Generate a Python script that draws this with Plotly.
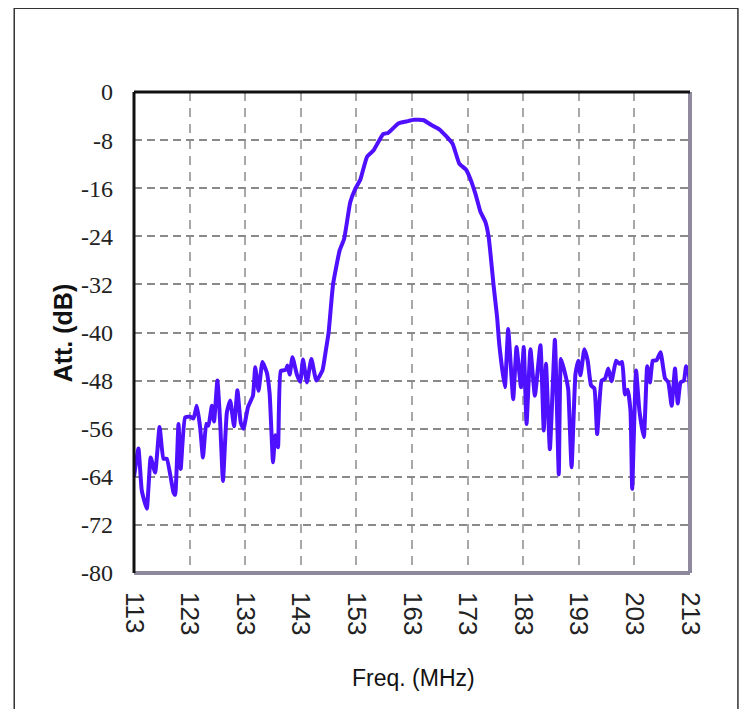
import plotly.graph_objects as go

freq = [113.0, 113.8, 114.4, 115.3, 116.0, 116.8, 117.6, 118.3, 118.9, 120.1,
        120.4, 121.0, 121.4, 122.2, 123.1, 123.7, 124.3, 124.9, 125.4, 126.0,
        126.4, 127.0, 127.4, 128.0, 128.5, 129.0, 129.7, 130.3, 131.0, 131.6,
        132.2, 132.7, 133.5, 134.4, 134.8, 135.4, 136.1, 136.9, 137.4, 138.0,
        138.4, 138.9, 139.4, 140.3, 140.6, 141.0, 141.5, 142.3, 142.9, 143.4,
        144.1, 144.9, 145.8, 146.9, 147.5, 148.0, 148.8, 150.0, 150.8, 151.9,
        152.8, 153.7, 154.9, 156.1, 157.8, 158.7, 160.6, 162.0, 163.3, 165.1,
        166.5, 167.9, 169.1, 170.3, 171.5, 172.7, 173.3, 174.4, 175.3, 176.2,
        176.8, 177.7, 178.3, 178.7, 179.7, 180.3, 181.2, 181.8, 182.6, 183.1,
        183.6, 184.3, 185.1, 186.1, 186.7, 187.1, 187.8, 188.7, 189.4, 189.8,
        190.7, 191.1, 191.7, 192.4, 192.9, 193.3, 194.0, 194.6, 195.2, 195.8,
        196.3, 197.1, 197.7, 198.3, 198.9, 199.7, 200.3, 200.8, 201.3, 201.8,
        202.3, 202.6, 203.3, 203.9, 204.7, 205.3, 205.8, 206.3, 207.0, 207.7,
        208.5, 209.1, 209.7, 210.3, 210.8, 211.3, 211.9, 212.3, 212.8, 213.0]

att = [-64.0, -59.3, -66.3, -69.3, -60.8, -63.3, -55.7, -61.0, -61.0, -66.6,
       -67.0, -55.2, -62.7, -54.1, -54.0, -54.3, -52.2, -55.8, -60.8, -55.2,
       -55.5, -52.2, -54.8, -48.0, -55.0, -64.7, -53.3, -51.3, -55.6, -49.6,
       -55.0, -56.0, -52.4, -50.5, -45.8, -49.7, -44.9, -46.7, -50.2, -61.6,
       -57.1, -59.1, -46.4, -46.2, -45.5, -47.0, -44.1, -47.0, -48.2, -44.5,
       -48.3, -44.4, -48.0, -46.3, -43.0, -40.0, -32.0, -26.3, -24.4, -18.3,
       -16.1, -14.6, -10.8, -9.7, -7.0, -6.8, -5.2, -4.9, -4.6, -4.7,
       -5.5, -6.2, -7.3, -8.6, -11.9, -12.9, -14.0, -16.9, -19.9, -21.6,
       -24.2, -32.4, -37.4, -42.0, -49.1, -39.4, -51.1, -42.4, -49.1, -42.4,
       -55.2, -42.8, -50.5, -42.1, -56.3, -45.2, -59.4, -41.2, -63.6, -44.4,
       -47.5, -49.5, -62.4, -46.9, -44.7, -47.1, -42.8, -44.7, -48.8, -49.3,
       -56.9, -48.0, -47.7, -46.0, -48.1, -44.7, -45.2, -44.9, -50.3, -49.5,
       -53.1, -66.0, -46.3, -53.0, -57.4, -45.6, -48.3, -44.7, -44.6, -43.3,
       -47.6, -48.3, -52.2, -46.0, -51.8, -48.3, -48.0, -45.6, -47.0, -51.3]

x_ticks = [113, 123, 133, 143, 153, 163, 173, 183, 193, 203, 213]
y_ticks = [0, -8, -16, -24, -32, -40, -48, -56, -64, -72, -80]

SERIF = "Liberation Serif"
SANS = "Liberation Sans"

fig = go.Figure()
fig.add_trace(go.Scatter(x=freq, y=att, mode="lines",
                         line=dict(color="#4f10ff", width=4, shape="spline", smoothing=0.4),
                         showlegend=False))

fig.update_layout(
    width=752, height=709,
    margin=dict(l=126, r=70, t=84, b=144),
    paper_bgcolor="white", plot_bgcolor="white",
    font=dict(family=SERIF, size=24, color="#222"),
    xaxis=dict(range=[113, 213], tickvals=x_ticks,
               ticktext=[str(v) for v in x_ticks], tickangle=90,
               tickfont=dict(family=SANS, size=26, color="#222"),
               showgrid=True, gridcolor="#a8a8a8", gridwidth=1.5, griddash="9px,7px",
               zeroline=False, showline=False, ticks="", ticklabelstandoff=18),
    yaxis=dict(range=[-80, 0], tickvals=y_ticks,
               ticktext=[str(v) for v in y_ticks],
               tickfont=dict(family=SERIF, size=24, color="#222"),
               showgrid=True, gridcolor="#8a8a8a", gridwidth=1.5, griddash="8px,5px",
               zeroline=False, showline=False, ticks="", ticklabelstandoff=20),
)

shapes = [
    dict(type="rect", xref="paper", yref="paper", x0=-0.2154, x1=1.0862,
         y0=-0.30, y1=1.1743, line=dict(color="#333", width=1.5)),
    dict(type="line", xref="paper", yref="paper", x0=1, x1=1, y0=0, y1=1,
         line=dict(color="#8e899c", width=4)),
    dict(type="line", xref="paper", yref="paper", x0=0, x1=1, y0=0, y1=0,
         line=dict(color="#8e899c", width=4)),
    dict(type="line", xref="paper", yref="paper", x0=0, x1=0, y0=0, y1=1,
         line=dict(color="#111", width=3)),
    dict(type="line", xref="paper", yref="paper", x0=0, x1=1, y0=1, y1=1,
         line=dict(color="#111", width=3)),
]

annotations = [
    dict(text="<b>Att. (dB)</b>", xref="paper", yref="paper", x=-0.128, y=0.5,
         textangle=-90, showarrow=False, xanchor="center", yanchor="middle",
         font=dict(family=SANS, size=25, color="#111")),
    dict(text="Freq. (MHz)", xref="paper", yref="paper", x=0.502, y=-0.218,
         showarrow=False, xanchor="center", yanchor="middle",
         font=dict(family=SANS, size=23, color="#111")),
]

fig.update_layout(shapes=shapes, annotations=annotations)

fig.write_html("out.html")
